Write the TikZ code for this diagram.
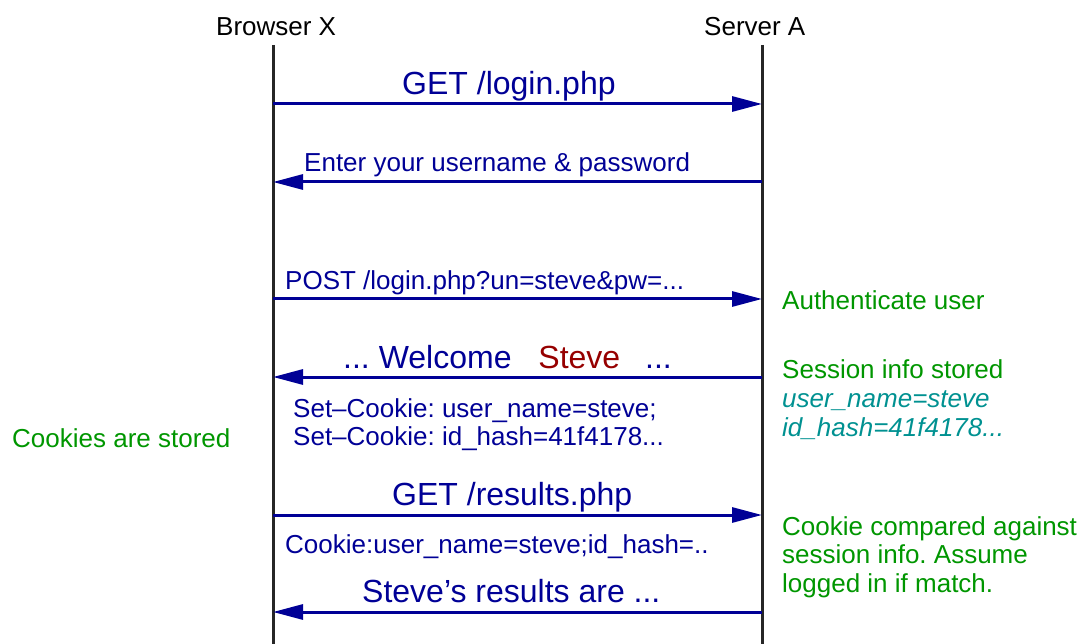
\documentclass[tikz,border=0pt]{standalone}
\usepackage{fontspec}
\setmainfont{Liberation Sans}
\frenchspacing
\usetikzlibrary{arrows.meta}
\definecolor{msgblue}{RGB}{0,0,150}
\definecolor{notegreen}{RGB}{0,150,0}
\definecolor{noteteal}{RGB}{0,145,145}
\definecolor{stevered}{RGB}{150,0,0}
\tikzset{
  lifeline/.style={line width=3pt, draw=black!85},
  msg/.style={line width=3pt, draw=msgblue, -{Triangle[length=30pt,width=15pt]}},
  big/.style={anchor=base west, inner sep=0pt, text=msgblue, font=\fontsize{32}{36}\selectfont},
  small/.style={anchor=base west, inner sep=0pt, text=msgblue, font=\fontsize{26}{29}\selectfont},
  head/.style={anchor=base west, inner sep=0pt, text=black, font=\fontsize{26}{29}\selectfont},
  note/.style={anchor=base west, inner sep=0pt, text=notegreen, font=\fontsize{26}{29}\selectfont},
  sess/.style={anchor=base west, inner sep=0pt, text=noteteal, font=\fontsize{26}{29}\itshape\selectfont},
}
\begin{document}
\begin{tikzpicture}[x=1pt,y=-1pt]
\useasboundingbox (0,0) rectangle (1087,644);
% headers
\node[head] (hb) at (216,36) {Browser X};
\node[head] (hs) at (704,36) {Server A};
% lifelines
\coordinate (btop) at (273,45);
\coordinate (bbot) at (273,644);
\coordinate (stop) at (762,45);
\coordinate (sbot) at (762,644);
\draw[lifeline] (btop) -- (bbot);
\draw[lifeline] (stop) -- (sbot);
% message end points
\foreach \i/\y in {1/104,2/182,3/299,4/377,5/515,6/612}{
  \coordinate (b\i) at (273,\y);
  \coordinate (s\i) at (762,\y);
}
\draw[msg] (b1) -- (s1);
\draw[msg] (s2) -- (b2);
\draw[msg] (b3) -- (s3);
\draw[msg] (s4) -- (b4);
\draw[msg] (b5) -- (s5);
\draw[msg] (s6) -- (b6);
% message labels
\node[big] (l1) at (402,95) {GET /login.php};
\node[small] (l2) at (304,172) {Enter your username \& password};
\node[small] (l3) at (285,290) {POST /login.php?un=steve\&pw=...};
\node[big] (l4) at (343,368) {... Welcome\hspace{18pt} \textcolor{stevered}{Steve}\hspace{16pt} ...};
\node[small] (l4a) at (293,417) {Set\textendash Cookie: user\_name=steve;};
\node[small] (l4b) at (293,445) {Set\textendash Cookie: id\_hash=41f4178...};
\node[big] (l5) at (392,505) {GET /results.php};
\node[small] (l5a) at (285,553) {Cookie:user\_name=steve;id\_hash=..};
\node[big] (l6) at (362,602) {Steve’s results are ...};
% notes
\node[note] (n0) at (12,447) {Cookies are stored};
\node[note] (n1) at (782,310) {Authenticate user};
\node[note] (n2) at (782,378) {Session info stored};
\node[sess] (n3) at (782,407) {user\_name=steve};
\node[sess] (n4) at (782,436) {id\_hash=41f4178...};
\node[note] (n5) at (782,535) {Cookie compared against};
\node[note] (n6) at (782,563) {session info. Assume};
\node[note] (n7) at (782,592) {logged in if match.};
\end{tikzpicture}
\end{document}
